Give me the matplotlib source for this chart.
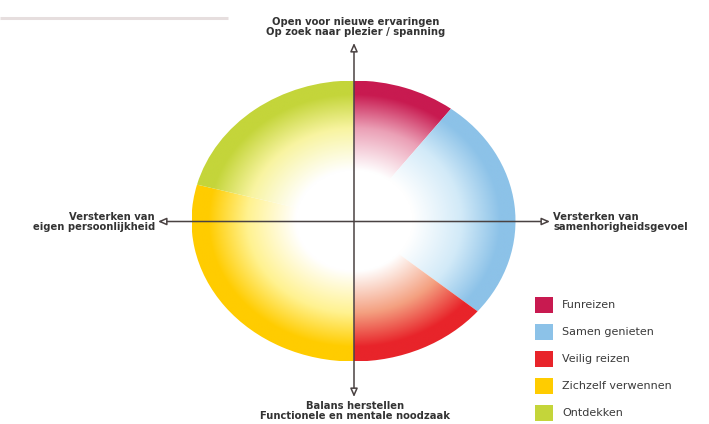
import numpy as np
import matplotlib
matplotlib.use("Agg")
import matplotlib.pyplot as plt
from matplotlib.patches import Wedge, Rectangle, FancyArrowPatch
from matplotlib.colors import to_rgb

# ---- data ----
segments = ["Funreizen", "Samen genieten", "Veilig reizen", "Zichzelf verwennen", "Ontdekken"]
shares_deg = [37, 93, 50, 105, 75]          # angular share of each segment (clockwise from top)
colors = ["#C81A50", "#8CC2E8", "#E8242A", "#FFCC00", "#C4D53A"]
mid_colors = ["#EBA0B6", "#D2EAF8", "#F4A080", "#FFF290", "#F8F4A0"]
axis_top = "Open voor nieuwe ervaringen\nOp zoek naar plezier / spanning"
axis_bottom = "Balans herstellen\nFunctionele en mentale noodzaak"
axis_left = "Versterken van\neigen persoonlijkheid"
axis_right = "Versterken van\nsamenhorigheidsgevoel"

W, H = 709, 424
fig = plt.figure(figsize=(W / 100, H / 100), dpi=100)
fig.patch.set_facecolor("white")

# ---- pie (elliptical) ----
cx, cy, rx, ry = 353.5, 221, 162, 140.5
pax = fig.add_axes([(cx - rx) / W, (H - cy - ry) / H, 2 * rx / W, 2 * ry / H])
pax.set_xlim(-1, 1)
pax.set_ylim(-1, 1)
pax.axis("off")

n = 500
gx, gy = np.meshgrid(np.linspace(-1, 1, n), np.linspace(-1, 1, n))
r = np.sqrt(gx ** 2 + gy ** 2)

def stop_interp(r, stops):
    pos = [s[0] for s in stops]
    out = np.zeros(r.shape + (3,))
    for k in range(3):
        out[..., k] = np.interp(r, pos, [s[1][k] for s in stops])
    return out

start = 90.0
for lab, sh, col, mc in zip(segments, shares_deg, colors, mid_colors):
    t1 = start
    t2 = start - sh
    w = Wedge((0, 0), 1.0, t2, t1, transform=pax.transData, facecolor="none", edgecolor="none")
    pax.add_patch(w)
    stops = [(0.0, (1, 1, 1)), (0.36, (1, 1, 1)), (0.66, to_rgb(mc)), (0.9, to_rgb(col)), (1.0, to_rgb(col))]
    img = stop_interp(r, stops)
    im = pax.imshow(img, extent=(-1, 1, -1, 1), origin="lower", interpolation="bilinear", aspect="auto")
    im.set_clip_path(w)
    start = t2

# ---- overlay in pixel coordinates ----
ax = fig.add_axes([0, 0, 1, 1])
ax.set_xlim(0, W)
ax.set_ylim(H, 0)
ax.axis("off")
ax.patch.set_alpha(0)

lc = "#4A4242"
ax.plot([0, 228], [18, 18], color="#E6DEDE", lw=2.2, solid_capstyle="butt")

for (x0, y0, x1, y1) in [(158, 221.5, 550, 221.5), (354, 43, 354, 397)]:
    arr = FancyArrowPatch((x0, y0), (x1, y1), arrowstyle="<|-|>,head_length=0.5,head_width=0.22",
                          mutation_scale=10, facecolor="white", edgecolor=lc, lw=1.1,
                          shrinkA=0, shrinkB=0)
    ax.add_patch(arr)

tc = "#333333"
fk = dict(family="DejaVu Sans", fontweight="bold", fontsize=7.2, color=tc, linespacing=1.0)
ax.text(356, 27, axis_top, ha="center", va="center", **fk)
ax.text(355, 411, axis_bottom, ha="center", va="center", **fk)
ax.text(155, 221.5, axis_left, ha="right", va="center", **fk)
ax.text(553, 222, axis_right, ha="left", va="center", **fk)

ly0, dy = 305.3, 26.8
for i, (lab, col) in enumerate(zip(segments, colors)):
    yc = ly0 + i * dy
    ax.add_patch(Rectangle((535, yc - 8), 18, 16, facecolor=col, edgecolor="none"))
    ax.text(562, yc, lab, ha="left", va="center", family="DejaVu Sans", fontweight="medium",
            fontsize=8.0, color="#3A3A3A")

fig.savefig("out.png", dpi=100, facecolor="white")
